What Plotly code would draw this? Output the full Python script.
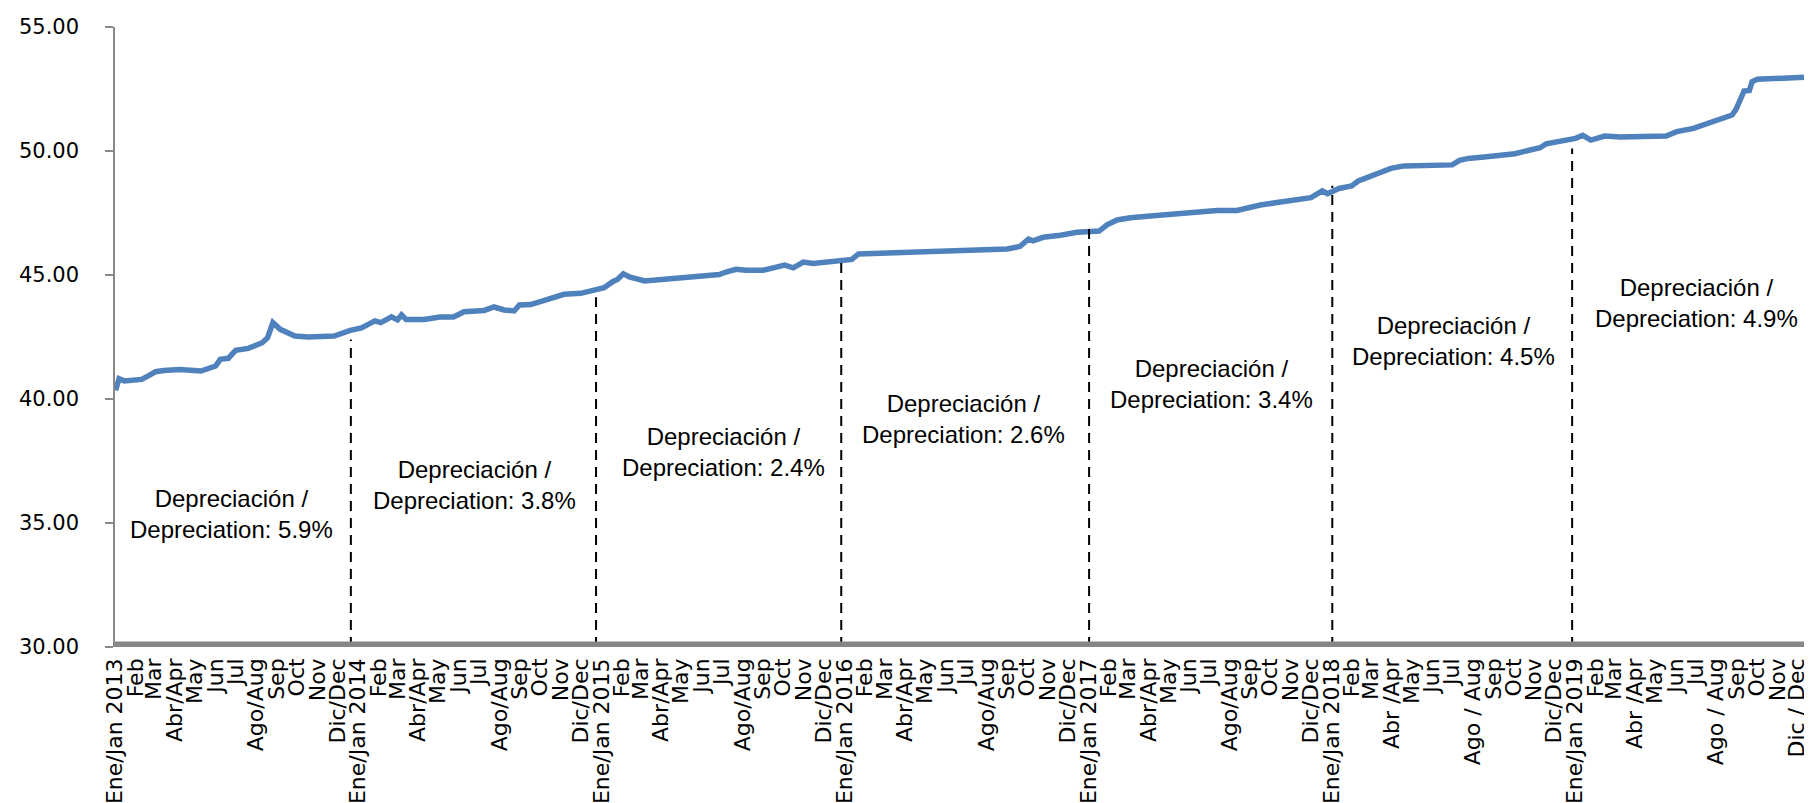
import plotly.graph_objects as go
import pandas as pd

# ---- data ----
dates = [
    "2013-01-02","2013-01-07","2013-01-15","2013-01-25","2013-02-10","2013-02-20","2013-03-03","2013-03-15",
    "2013-04-08","2013-05-10","2013-05-20","2013-06-01","2013-06-08","2013-06-20","2013-07-01","2013-07-20",
    "2013-08-10","2013-08-18","2013-08-26","2013-09-06","2013-09-28","2013-10-18","2013-11-26","2013-12-20",
    "2014-01-06","2014-01-26","2014-02-04","2014-02-20","2014-03-01","2014-03-07","2014-03-14","2014-04-10",
    "2014-05-04","2014-05-24","2014-06-09","2014-06-24","2014-07-09","2014-07-24","2014-08-08","2014-08-23",
    "2014-08-31","2014-09-17","2014-10-02","2014-10-17","2014-10-28","2014-11-06","2014-12-01","2014-12-22",
    "2015-01-05","2015-01-18","2015-01-25","2015-02-03","2015-02-12","2015-03-07","2015-03-27","2015-04-21",
    "2015-05-16","2015-06-12","2015-06-27","2015-07-07","2015-07-22","2015-08-06","2015-09-01","2015-09-16",
    "2015-10-03","2015-10-16","2015-10-31","2015-11-15","2015-12-04","2015-12-25",
    "2016-01-12","2016-01-22","2016-03-01","2016-05-01","2016-07-01","2016-09-01","2016-09-20","2016-10-03",
    "2016-10-10","2016-10-25","2016-11-20","2016-12-15",
    "2017-01-17","2017-01-29","2017-02-13","2017-03-05","2017-04-04","2017-05-04","2017-06-03","2017-06-18",
    "2017-07-13","2017-08-12","2017-09-01","2017-09-16","2017-10-11","2017-11-05","2017-12-01","2017-12-18",
    "2017-12-26",
    "2018-01-12","2018-01-31","2018-02-10","2018-03-01","2018-03-16","2018-03-31","2018-04-20","2018-05-15",
    "2018-06-14","2018-07-01","2018-07-12","2018-07-25","2018-08-18","2018-09-12","2018-10-03","2018-10-26",
    "2018-11-10","2018-11-19","2018-12-15",
    "2019-01-02","2019-01-13","2019-01-25","2019-02-15","2019-03-10","2019-05-18","2019-06-03","2019-06-28",
    "2019-07-28","2019-08-25","2019-08-31","2019-09-12","2019-09-20","2019-09-24","2019-10-02","2019-11-12",
    "2019-12-20","2019-12-31",
]
rates = [
    40.35,40.82,40.73,40.76,40.79,40.93,41.10,41.15,
    41.19,41.13,41.22,41.33,41.60,41.64,41.96,42.04,
    42.27,42.47,43.08,42.81,42.54,42.50,42.54,42.77,
    42.87,43.15,43.08,43.31,43.19,43.39,43.21,43.21,
    43.31,43.31,43.52,43.52,43.57,43.71,43.59,43.55,
    43.79,43.81,43.92,44.02,44.15,44.22,44.26,44.38,
    44.49,44.73,44.82,45.05,44.92,44.76,44.80,44.86,
    44.89,44.96,45.02,45.12,45.23,45.19,45.19,45.29,
    45.40,45.29,45.52,45.46,45.52,45.59,
    45.63,45.85,45.88,45.94,46.00,46.05,46.15,46.45,
    46.38,46.52,46.60,46.72,
    46.77,47.02,47.22,47.31,47.38,47.44,47.51,47.58,
    47.60,47.60,47.74,47.82,47.92,48.04,48.12,48.39,
    48.28,
    48.49,48.59,48.79,48.99,49.12,49.30,49.40,49.40,
    49.40,49.44,49.62,49.70,49.76,49.84,49.89,50.04,
    50.13,50.29,50.40,
    50.51,50.63,50.44,50.60,50.56,50.60,50.78,50.91,
    51.21,51.45,51.68,52.42,52.44,52.79,52.89,52.92,
    52.98,53.00,
]

month_labels = [
    "Ene/Jan 2013","Feb","Mar","Abr/Apr","May","Jun","Jul","Ago/Aug","Sep","Oct","Nov","Dic/Dec",
    "Ene/Jan 2014","Feb","Mar","Abr/Apr","May","Jun","Jul","Ago/Aug","Sep","Oct","Nov","Dic/Dec",
    "Ene/Jan 2015","Feb","Mar","Abr/Apr","May","Jun","Jul","Ago/Aug","Sep","Oct","Nov","Dic/Dec",
    "Ene/Jan 2016","Feb","Mar","Abr/Apr","May","Jun","Jul","Ago/Aug","Sep","Oct","Nov","Dic/Dec",
    "Ene/Jan 2017","Feb","Mar","Abr/Apr","May","Jun","Jul","Ago/Aug","Sep","Oct","Nov","Dic/Dec",
    "Ene/Jan 2018","Feb","Mar","Abr /Apr","May","Jun","Jul","Ago / Aug","Sep","Oct","Nov","Dic/Dec",
    "Ene/Jan 2019","Feb","Mar","Abr /Apr","May","Jun","Jul","Ago / Aug","Sep","Oct","Nov","Dic / Dec",
]

year_break_dates = ["2013-12-21","2014-12-24","2015-12-27","2017-01-02","2018-01-02","2018-12-28"]
year_break_tops = [42.4, 44.1, 45.7, 46.9, 48.6, 50.1]

depr_labels = ["5.9%","3.8%","2.4%","2.6%","3.4%","4.5%","4.9%"]
depr_x = ["2013-06-25","2014-06-24","2015-07-03","2016-06-28","2017-07-04","2018-07-03","2019-07-02"]
depr_y = [35.37, 36.54, 37.87, 39.20, 40.62, 42.35, 43.88]

# ---- figure ----
tick_vals = pd.date_range("2013-01-01", "2019-12-01", freq="MS")

fig = go.Figure()
fig.add_trace(go.Scatter(
    x=pd.to_datetime(dates), y=rates, mode="lines",
    line=dict(color="#4F81BD", width=5.5), showlegend=False,
))

shapes = []
for d, top in zip(year_break_dates, year_break_tops):
    shapes.append(dict(type="line", xref="x", yref="y", x0=d, x1=d, y0=30, y1=top,
                       line=dict(color="black", width=2, dash="10px,7px")))
shapes.append(dict(type="line", xref="paper", yref="y", x0=0, x1=1, y0=30, y1=30,
                   line=dict(color="#878787", width=11), layer="above"))

annotations = []
for lab, ax_, ay_ in zip(depr_labels, depr_x, depr_y):
    annotations.append(dict(x=ax_, y=ay_, xref="x", yref="y", showarrow=False,
                            text="Depreciación /<br>Depreciation: " + lab,
                            font=dict(family="Liberation Sans, Arial", size=24, color="black"),
                            align="center"))

fig.update_layout(
    width=1812, height=803,
    margin=dict(l=107, r=2, t=19, b=164, autoexpand=False),
    paper_bgcolor="white", plot_bgcolor="white",
    shapes=shapes, annotations=annotations,
    xaxis=dict(
        type="date", range=["2013-01-01", "2020-01-01"], automargin=False,
        tickvals=tick_vals, ticktext=month_labels, tickangle=-90,
        showgrid=False, zeroline=False, showline=False,
        ticks="", ticklabelstandoff=6,
        tickfont=dict(family="DejaVu Sans", size=22, color="black"),
    ),
    yaxis=dict(
        range=[30, 55], tickvals=[30, 35, 40, 45, 50, 55], tickformat=".2f", automargin=False,
        showgrid=False, zeroline=False, showline=True, linecolor="#898989", linewidth=1.5,
        ticks="outside", ticklen=8, tickcolor="#898989", tickwidth=1.5,
        ticklabelstandoff=22,
        tickfont=dict(family="DejaVu Sans", size=21, color="black"),
    ),
)

fig.write_html("out.html")
